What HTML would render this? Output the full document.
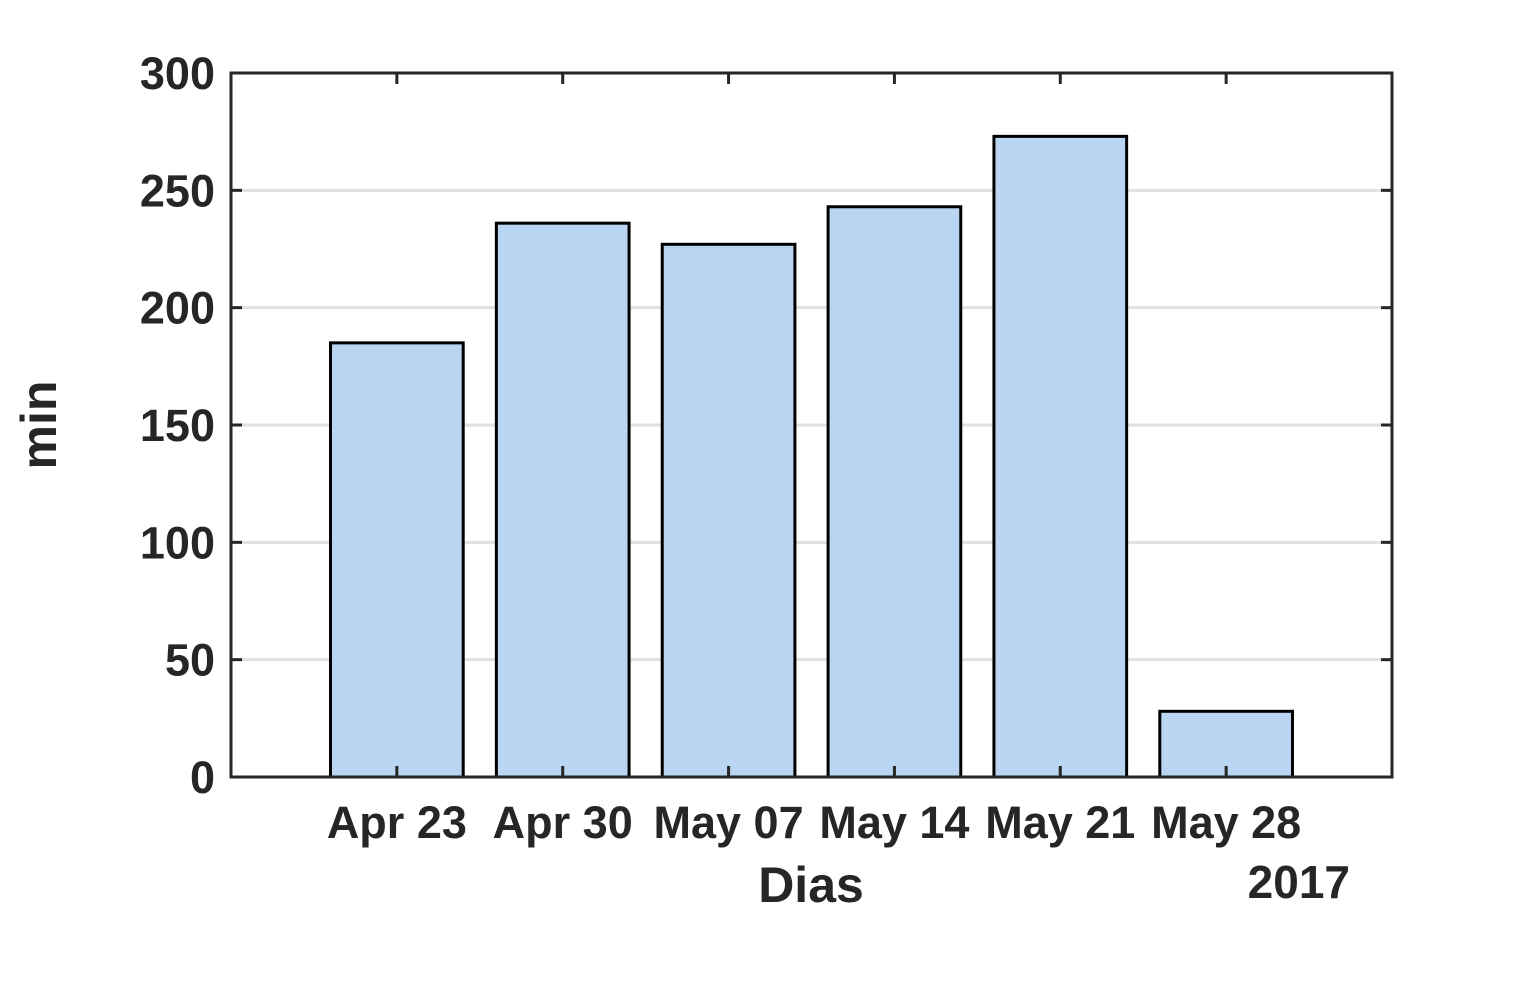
<!DOCTYPE html>
<html><head><meta charset="utf-8"><style>
html,body{margin:0;padding:0;background:#fff;}
svg text{font-family:"Liberation Sans",Arial,sans-serif;font-weight:bold;fill:#262626;}
</style></head><body>
<svg id="chart" width="1538" height="979" xmlns="http://www.w3.org/2000/svg">
<g id="grid"></g>
<g id="bars"></g>
<rect x="231" y="73" width="1161" height="704" fill="none" stroke="#262626" stroke-width="3"/>
<g id="ticks"></g>
<text x="811" y="902" font-size="50" text-anchor="middle">Dias</text>
<text x="1350" y="898" font-size="46" text-anchor="end">2017</text>
<text x="0" y="0" font-size="50" text-anchor="middle" transform="translate(56,425) rotate(-90)">min</text>
</svg>
<script>
const categories=["Apr 23","Apr 30","May 07","May 14","May 21","May 28"];
const values=[185,236,227,243,273,28];
const yTicks=[0,50,100,150,200,250,300];
const L=231,R=1392,T=73,B=777;
const ns="http://www.w3.org/2000/svg";
const x=i=>L+(i+1)*(R-L)/(categories.length+1);
const y=v=>B-(v/300)*(B-T);
function mk(tag,attrs,parent){const e=document.createElementNS(ns,tag);for(const k in attrs)e.setAttribute(k,attrs[k]);parent.appendChild(e);return e;}
const grid=document.getElementById('grid'),bars=document.getElementById('bars'),ticks=document.getElementById('ticks');
const bw=(R-L)/(categories.length+1)*0.8;
yTicks.forEach(v=>{
  if(v>0&&v<300){const g=mk('line',{x1:L,x2:R,y1:y(v),y2:y(v),stroke:'#e0e0e0','stroke-width':3},grid);
  
  }
  const t1=mk('line',{x1:L,x2:L+11,y1:y(v),y2:y(v),stroke:'#262626','stroke-width':3},ticks);
  
  
  const t2=mk('line',{x1:R-11,x2:R,y1:y(v),y2:y(v),stroke:'#262626','stroke-width':3},ticks);
  
  
  const lb=mk('text',{x:L-16,y:y(v)+16,'font-size':45,'text-anchor':'end'},ticks);
  lb.textContent=v;
  
  
});
categories.forEach((c,i)=>{
  const r=mk('rect',{x:x(i)-bw/2,y:y(values[i]),width:bw,height:B-y(values[i]),fill:'#bad5f2',stroke:'#000','stroke-width':3},bars);
  
  
  const t1=mk('line',{x1:x(i),x2:x(i),y1:B,y2:B-11,stroke:'#262626','stroke-width':3},ticks);
  
  
  const t2=mk('line',{x1:x(i),x2:x(i),y1:T,y2:T+11,stroke:'#262626','stroke-width':3},ticks);
  
  
  const lb=mk('text',{x:x(i),y:838,'font-size':45,'text-anchor':'middle'},ticks);
  lb.textContent=c;
  
  
});
</script>
</body></html>
